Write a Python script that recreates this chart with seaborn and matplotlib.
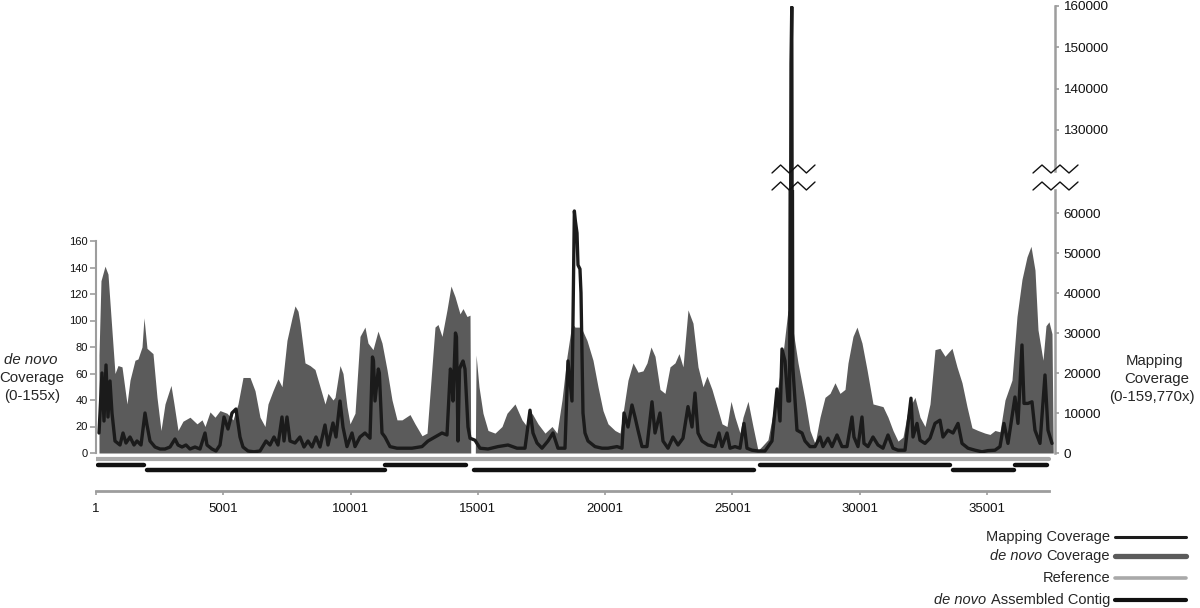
import numpy as np
import pandas as pd
import seaborn as sns
import matplotlib.pyplot as plt
from matplotlib.lines import Line2D

# ---------------- data ----------------
genome_length = 37450
x_tick_values = [1, 5001, 10001, 15001, 20001, 25001, 30001, 35001]
left_ticks = [0, 20, 40, 60, 80, 100, 120, 140, 160]
right_ticks_low = [0, 10000, 20000, 30000, 40000, 50000, 60000]
right_ticks_high = [130000, 140000, 150000, 160000]

denovo_pos = [118, 196, 354, 471, 628, 746, 864, 1021, 1218, 1336, 1532, 1650, 1807, 1885,
              2003, 2121, 2239, 2396, 2553, 2710, 2946, 3064, 3221, 3417, 3692, 3967, 4164,
              4282, 4478, 4674, 4871, 5146, 5381, 5578, 5774, 6049, 6246, 6442, 6638, 6756,
              6953, 7149, 7306, 7502, 7699, 7817, 7935, 8013, 8210, 8406, 8602, 8799, 8995,
              9113, 9309, 9388, 9584, 9702, 9859, 9977, 10174, 10370, 10566, 10684, 10881,
              11077, 11234, 11430, 11627, 11823, 12020, 12334, 12530, 12805, 13002, 13120,
              13316, 13434, 13591, 13787, 13944, 14102, 14298, 14416, 14573, 14691, 14720,
              14900, 14930, 15044, 15201, 15398, 15673, 15948, 16144, 16458, 16733, 16930,
              17126, 17362, 17637, 17912, 18108, 18304, 18501, 18697, 18815, 19051, 19286,
              19522, 19719, 19915, 20111, 20386, 20583, 20701, 20897, 21094, 21290, 21486,
              21643, 21800, 21958, 22154, 22350, 22547, 22743, 22900, 23057, 23254, 23450,
              23647, 23843, 24000, 24196, 24393, 24589, 24786, 24943, 25100, 25296, 25414,
              25611, 25807, 26003, 26160, 26396, 26593, 26789, 26986, 27182, 27378, 27575,
              27850, 28046, 28243, 28439, 28635, 28832, 29028, 29224, 29421, 29539, 29735,
              29892, 30088, 30285, 30521, 30717, 30913, 31110, 31306, 31503, 31699, 31895,
              32170, 32367, 32563, 32760, 32956, 33152, 33349, 33624, 33820, 34017, 34213,
              34409, 34645, 34920, 35116, 35313, 35509, 35706, 35980, 36177, 36373, 36570,
              36727, 36884, 37002, 37198, 37316, 37434, 37552, 37600]
denovo_cov = [74, 130, 141, 135, 92, 60, 66, 65, 37, 55, 70, 71, 80, 102,
              79, 77, 75, 42, 17, 37, 51, 37, 17, 24, 27, 22, 25,
              20, 31, 27, 32, 30, 25, 37, 57, 57, 47, 27, 20, 37,
              47, 56, 50, 85, 102, 111, 107, 98, 68, 66, 63, 50, 37,
              45, 40, 42, 66, 60, 35, 22, 30, 88, 95, 83, 78,
              92, 83, 63, 40, 25, 25, 29, 22, 13, 15, 45,
              95, 97, 88, 108, 126, 118, 105, 109, 103, 104, 0,
              0, 74, 50, 30, 17, 15, 20, 30, 37, 25, 20,
              30, 22, 15, 20, 15, 40, 73, 98, 95, 95, 85,
              70, 50, 32, 22, 17, 15, 30, 55, 68, 61, 62,
              68, 80, 73, 48, 45, 65, 68, 75, 65, 108, 98,
              65, 50, 58, 48, 35, 22, 20, 39, 27, 15, 27,
              39, 20, 2, 5, 10, 30, 50, 75, 108, 93, 68,
              40, 17, 7, 27, 42, 45, 53, 45, 48, 68, 88,
              95, 83, 63, 37, 36, 35, 27, 17, 9, 12, 32,
              42, 27, 20, 37, 78, 79, 73, 79, 65, 53, 35,
              19, 17, 15, 14, 17, 16, 40, 55, 103, 131, 148,
              156, 138, 93, 70, 96, 99, 90, 0]

map_pos = [118, 236, 314, 393, 471, 550, 628, 746, 943, 1061, 1178, 1336, 1493, 1610, 1768,
           1925, 2003, 2121, 2318, 2514, 2710, 2907, 3103, 3221, 3378, 3535, 3692, 3889, 4085,
           4282, 4360, 4556, 4714, 4871, 5028, 5185, 5342, 5499, 5656, 5774, 5971, 6206, 6442,
           6678, 6835, 6992, 7149, 7306, 7385, 7502, 7620, 7817, 8013, 8170, 8327, 8484, 8642,
           8799, 8995, 9113, 9309, 9427, 9584, 9702, 9859, 10056, 10174, 10370, 10566, 10763,
           10860, 10900, 10959, 11090, 11130, 11234, 11352, 11548, 11823, 12020, 12412, 12805,
           13041, 13316, 13591, 13787, 13920, 13960, 14023, 14120, 14160, 14219, 14280, 14340,
           14416, 14494, 14612, 14691, 14887, 15084, 15398, 15791, 16184, 16537, 16851, 17048,
           17165, 17323, 17519, 17755, 17951, 18147, 18422, 18540, 18697, 18790, 18830, 18894,
           18933, 19010, 19051, 19129, 19208, 19326, 19601, 19876, 20111, 20465, 20661, 20740,
           20897, 21054, 21172, 21290, 21447, 21643, 21840, 21958, 22154, 22272, 22468, 22665,
           22861, 23057, 23254, 23411, 23529, 23647, 23804, 24039, 24314, 24472, 24589, 24786,
           24904, 25100, 25296, 25453, 25571, 25768, 26003, 26278, 26553, 26750, 26868, 26946,
           27064, 27182, 27245, 27300, 27330, 27370, 27535, 27732, 27850, 28046, 28243, 28439,
           28557, 28753, 28910, 29107, 29303, 29499, 29696, 29774, 29931, 30088, 30167, 30324,
           30521, 30717, 30913, 31110, 31306, 31503, 31778, 32013, 32092, 32249, 32367, 32563,
           32760, 32956, 33152, 33270, 33467, 33664, 33860, 34017, 34252, 34527, 34802, 35038,
           35313, 35509, 35666, 35823, 36098, 36216, 36373, 36452, 36609, 36766, 36884, 37080,
           37277, 37395, 37552]
map_cov = [5000, 20000, 8000, 22000, 9000, 18000, 10000, 3000, 2000, 5000, 2500, 4000, 2000, 3000, 2000,
           10000, 7000, 3000, 1500, 1000, 1000, 1500, 3500, 2000, 1500, 2000, 1000, 1500, 1000,
           5000, 2000, 1000, 500, 2000, 9000, 6000, 10000, 11000, 4000, 1500, 500, 300, 500,
           3000, 2000, 4000, 2000, 9000, 3000, 9000, 3000, 2500, 4000, 1500, 3000, 1500, 4000,
           1500, 7000, 2000, 7500, 4000, 13000, 6500, 1600, 5000, 1600, 4000, 5000, 3700,
           24000, 23000, 13000, 21000, 20000, 5000, 4000, 1600, 1200, 1200, 1200, 1600,
           3000, 4000, 5000, 4500, 21000, 20000, 13000, 30000, 29000, 3000, 21000, 22000,
           23000, 21000, 6500, 3700, 3200, 1200, 1000, 1600, 2000, 1200, 1200, 10700,
           5000, 2500, 1200, 3000, 5000, 1200, 1200, 23000, 13000, 60500, 58000, 55000,
           47000, 46000, 40000, 10000, 5000, 3000, 1600, 1200, 1200, 1600, 1200, 10000,
           6500, 12000, 9000, 5700, 1600, 1600, 12800, 5000, 10000, 3000, 1200, 4000,
           2000, 3700, 11600, 6500, 15000, 5000, 3000, 2000, 1600, 5000, 1600, 5000,
           1200, 1600, 1200, 7400, 1200, 700, 500, 500, 3000, 16000, 8000, 26000,
           23000, 13000, 13000, 146000, 159770, 21600, 5700, 5000, 3000, 1600, 1600, 4000,
           1600, 3700, 1600, 4500, 1600, 1600, 9000, 4000, 1600, 9000, 2400, 1600,
           4000, 2000, 1200, 4500, 1200, 700, 700, 13700, 4000, 7400, 3200, 2400,
           3700, 7400, 8200, 4000, 5700, 5000, 7400, 2400, 1200, 700, 300, 600,
           700, 1600, 7400, 2400, 14000, 7400, 27000, 12400, 12400, 12800, 5700, 2400,
           19500, 5700, 2400]

reference_start = [1]
reference_end = [genome_length]

contig_start = [1, 1960, 11310, 14770, 26040, 33590, 36020]
contig_end = [1960, 11400, 14610, 25890, 33620, 36100, 37400]
contig_row = [1, 2, 1, 2, 1, 2, 1]

legend_labels = [("", "Mapping Coverage"), ("de novo", "Coverage"),
                 ("", "Reference"), ("de novo", "Assembled Contig")]

# ---------------- style ----------------
sns.set_theme(style="white")
plt.rcParams['font.family'] = ['Liberation Sans', 'DejaVu Sans']

DENOVO = "#5b5b5b"
MAPC = "#1b1b1b"
REF = "#a9a9a9"
CONTIG = "#111111"
SPINE = "#9d9d9d"

W, H = 1200, 608
fig = plt.figure(figsize=(W / 100, H / 100), dpi=100)
fig.patch.set_facecolor("white")


def fx(p):
    return p / W


def fy(p):
    return 1 - p / H


X0, X1 = 96, 1055
XMAX = 37670
AW = fx(X1) - fx(X0)
MAP_LW = 2.4

# lower main axes (de novo, left scale)
ax1 = fig.add_axes([fx(X0), fy(453), AW, (453 - 190) / H])
ax1.fill_between(denovo_pos, denovo_cov, 0, color=DENOVO, lw=0)
ax1.set_xlim(0, XMAX)
ax1.set_ylim(0, (453 - 190) / 1.325)
for s in ["top", "right", "bottom"]:
    ax1.spines[s].set_visible(False)
ax1.spines["left"].set_bounds(0, 160)
ax1.spines["left"].set_color(SPINE)
ax1.spines["left"].set_linewidth(1.5)
ax1.set_yticks(left_ticks)
ax1.set_yticklabels([str(v) for v in left_ticks])
ax1.tick_params(axis="y", which="both", left=True, length=4, width=1.2, color=SPINE,
                labelsize=8, pad=2, labelcolor="#111111")
ax1.set_xticks([])

# lower mapping axes (right scale)
map_df = pd.DataFrame({"pos": map_pos, "cov": map_cov})
ax2 = ax1.twinx()
sns.lineplot(data=map_df, x="pos", y="cov", ax=ax2, color=MAPC, lw=MAP_LW,
             estimator=None, sort=False)
ax2.set_xlim(0, XMAX)
ax2.set_ylim(0, (453 - 190) * 250)
for s in ["top", "left", "bottom"]:
    ax2.spines[s].set_visible(False)
ax2.spines["right"].set_color(SPINE)
ax2.spines["right"].set_linewidth(1.8)
ax2.set_yticks(right_ticks_low)
ax2.set_yticklabels([str(v) for v in right_ticks_low])
ax2.tick_params(axis="y", which="both", right=True, length=3, width=1.2, color=SPINE,
                labelsize=9.7, pad=3, labelcolor="#111111")
ax2.set_xlabel("")
ax2.set_ylabel("")
ax2.set_xticks([])

# upper mapping axes (broken part)
ax_up = fig.add_axes([fx(X0), fy(190), AW, (190 - 6) / H])
ax_up.patch.set_alpha(0)
sns.lineplot(data=map_df, x="pos", y="cov", ax=ax_up, color=MAPC, lw=MAP_LW,
             estimator=None, sort=False)
ax_up.set_xlim(0, XMAX)
ax_up.set_ylim(160000 - 184 / 41.25 * 10000, 160000)
ax_up.yaxis.tick_right()
for s in ["top", "left", "bottom"]:
    ax_up.spines[s].set_visible(False)
ax_up.spines["right"].set_bounds(120000, 160000)
ax_up.spines["right"].set_color(SPINE)
ax_up.spines["right"].set_linewidth(1.8)
ax_up.set_yticks(right_ticks_high)
ax_up.set_yticklabels([str(v) for v in right_ticks_high])
ax_up.tick_params(axis="y", which="both", right=True, left=False, length=3, width=1.2,
                  color=SPINE, labelsize=9.7, pad=3, labelcolor="#111111")
ax_up.set_xticks([])
ax_up.set_xlabel("")
ax_up.set_ylabel("")

# track axes: reference + contigs
ax_tr = fig.add_axes([fx(X0), fy(476), AW, 22 / H])
ax_tr.patch.set_alpha(0)
ax_tr.set_xlim(0, XMAX)
ax_tr.set_ylim(3.09, -0.909)
for rs, re_ in zip(reference_start, reference_end):
    sns.lineplot(x=[rs, re_], y=[0, 0], ax=ax_tr, color=REF, lw=3.0,
                 estimator=None, sort=False)
for cs, ce, cr in zip(contig_start, contig_end, contig_row):
    ax_tr.plot([cs + 60, ce - 60], [cr, cr], color=CONTIG, lw=3.2,
               solid_capstyle="round")
ax_tr.axis("off")

# x axis
ax_x = fig.add_axes([fx(X0), fy(491), AW, 0.5 / H])
ax_x.patch.set_alpha(0)
ax_x.set_xlim(0, XMAX)
ax_x.set_ylim(0, 1)
for s in ["top", "left", "right"]:
    ax_x.spines[s].set_visible(False)
ax_x.spines["bottom"].set_bounds(1, genome_length)
ax_x.spines["bottom"].set_color(SPINE)
ax_x.spines["bottom"].set_linewidth(2)
ax_x.set_xticks(x_tick_values)
ax_x.set_xticklabels([str(v) for v in x_tick_values])
ax_x.tick_params(axis="x", bottom=True, length=3, width=1.2, color=SPINE,
                 labelsize=9.5, pad=6, labelcolor="#111111")
ax_x.set_yticks([])

# break marks
def zigzag(xl, xr, ylow, yhigh):
    xs = np.linspace(xl, xr, 6)
    ys = [ylow, yhigh, ylow, yhigh, ylow, yhigh]
    fig.add_artist(Line2D([fx(v) for v in xs], [fy(v) for v in ys],
                          transform=fig.transFigure, color="#111111", lw=1.0))

for xl, xr in [(772, 815), (1033, 1078)]:
    zigzag(xl, xr, 173, 165)
    zigzag(xl, xr, 190, 182)

# axis titles
fs_lab = 10.8
fig.text(fx(31), fy(360), "de novo", style="italic", ha="center", va="center", fontsize=fs_lab)
fig.text(fx(32), fy(378), "Coverage", ha="center", va="center", fontsize=fs_lab)
fig.text(fx(32), fy(396), "(0-155x)", ha="center", va="center", fontsize=fs_lab)
fig.text(fx(1155), fy(361), "Mapping", ha="center", va="center", fontsize=fs_lab)
fig.text(fx(1157), fy(379), "Coverage", ha="center", va="center", fontsize=fs_lab)
fig.text(fx(1152), fy(397), "(0-159,770x)", ha="center", va="center", fontsize=fs_lab)

# legend
renderer = fig.canvas.get_renderer()
leg_y = [537, 556, 578, 600]
leg_style = [(MAPC, 2.2), (DENOVO, 3.8), (REF, 2.6), (CONTIG, 3.0)]
for (ital, norm), yy, (col, lw) in zip(legend_labels, leg_y, leg_style):
    t = fig.text(fx(1110), fy(yy), norm, ha="right", va="center", fontsize=10.5)
    if ital:
        bb = t.get_window_extent(renderer=renderer)
        fig.text(fx(bb.x0 - 4), fy(yy), ital, ha="right", va="center",
                 fontsize=10.5, style="italic")
    fig.add_artist(Line2D([fx(1115), fx(1186)], [fy(yy), fy(yy)],
                          transform=fig.transFigure, color=col, lw=lw))

fig.savefig("out.png", dpi=100, facecolor="white")
